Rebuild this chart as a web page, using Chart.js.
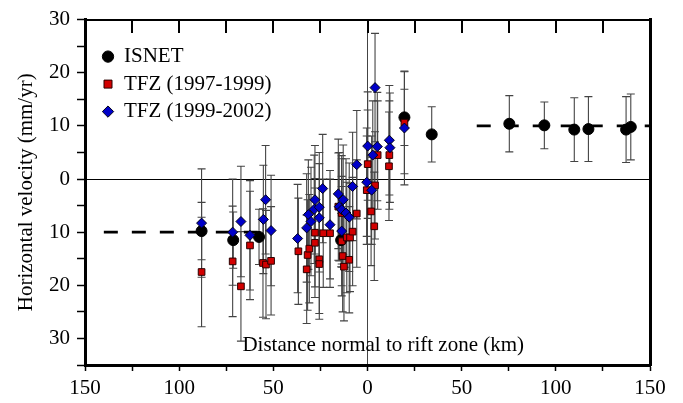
<!DOCTYPE html>
<html><head><meta charset="utf-8">
<script src="https://cdn.jsdelivr.net/npm/chart.js@4.4.1/dist/chart.umd.min.js"></script>
<style>html,body{margin:0;padding:0;background:#fff;}canvas{display:block;}</style>
</head><body>
<canvas id="c" width="683" height="403"></canvas>
<script>
// ---- data (distance normal to rift zone in km, horizontal velocity in mm/yr) ----
const isnetX   = [-88.1, -71.3, -57.6, -14.0, 19.6, 34.1, 75.3, 93.9, 109.8, 117.3, 137.3, 139.8];
const isnetV   = [-9.8, -11.5, -10.9, -11.5, 11.6, 8.4, 10.4, 10.1, 9.3, 9.4, 9.3, 9.8];
const isnetErr = [5.4, 5.3, 5.2, 5.0, 5.3, 5.2, 5.3, 4.4, 6.0, 6.1, 6.2, 6.2];

const tfz97X   = [-88.1, -71.6, -67.2, -62.4, -55.5, -53.9, -51.2, -36.7, -32.3, -31.8, -30.9, -27.9, -27.9, -25.6, -25.6, -23.5, -19.9, -15.5, -13.7, -13.7, -13.2, -12.5, -11.0, -9.7, -9.3, -7.9, -5.7, -0.4, 0.1, 1.9, 3.6, 4.0, 5.4, 11.4, 11.6, 19.6];
const tfz97V   = [-17.5, -15.5, -20.2, -12.5, -15.8, -16.1, -15.4, -13.6, -17.0, -14.3, -13.1, -10.1, -12.0, -15.1, -16.0, -10.2, -10.2, -5.2, -6.4, -11.7, -14.5, -16.5, -11.0, -15.2, -11.0, -9.9, -6.5, -2.1, 2.8, -6.1, -8.9, -1.2, 4.5, 2.4, 4.5, 10.6];
const tfz97Err = [10.3, 10.4, 10.3, 10.2, 10.2, 10.2, 10.2, 10.0, 10.2, 10.4, 10.2, 10.2, 10.3, 10.2, 10.4, 10.2, 10.2, 10.1, 10.2, 10.3, 10.5, 10.2, 10.4, 10.0, 10.2, 10.2, 10.1, 10.2, 10.2, 10.2, 10.2, 10.1, 10.2, 10.2, 10.2, 9.6];

const tfz99X   = [-88.1, -71.6, -67.2, -62.4, -55.3, -54.1, -51.2, -37.1, -32.3, -31.4, -30.0, -28.3, -27.9, -25.6, -25.6, -23.8, -19.9, -15.5, -15.0, -13.7, -12.9, -11.4, -9.7, -13.7, -7.9, -5.7, -0.4, 0.1, 2.2, 2.8, 4.0, 5.2, 11.6, 11.9, 19.6];
const tfz99V   = [-8.3, -10.0, -8.0, -10.6, -7.6, -3.9, -9.7, -11.2, -9.2, -6.7, -8.0, -5.7, -3.9, -5.3, -7.3, -1.8, -8.6, -2.8, -5.2, -5.8, -3.9, -6.4, -7.2, -9.8, -1.4, 2.7, -0.6, 6.2, -2.1, 4.5, 17.2, 6.1, 7.3, 5.9, 9.6];
const tfz99Err = [10.2, 10.0, 10.4, 10.3, 10.2, 10.2, 10.4, 10.2, 10.2, 10.3, 10.2, 10.2, 10.2, 10.3, 10.2, 10.2, 10.2, 10.3, 10.2, 10.2, 10.3, 10.2, 10.2, 10.3, 10.2, 10.2, 10.2, 10.2, 10.2, 10.2, 10.2, 10.2, 10.3, 10.3, 10.7];

const modelLeftX  = [-140, -55];
const modelLeftV  = [-10, -10];
const modelRightX = [58, 150];
const modelRightV = [10, 10];

const topTickValues = [-125, -100, -75, -50, -25, 0, 25, 50, 75, 100, 125];

const seriesLabels = ['ISNET', 'TFZ (1997-1999)', 'TFZ (1999-2002)'];
const xTitle = '      Distance normal to rift zone (km)';
const yTitle = 'Horizontal velocity (mm/yr)';

// ---- chart ----
Chart.defaults.font.family = "'Liberation Serif', 'Times New Roman', serif";
Chart.defaults.color = '#000';

function pts(xs, ys) { return xs.map((x, i) => ({x: x, y: ys[i]})); }

const errorBars = {
  id: 'errorBars',
  beforeDatasetsDraw(chart) {
    const {ctx, chartArea} = chart;
    const xs = chart.scales.x, ys = chart.scales.y;
    ctx.save();
    ctx.beginPath();
    ctx.rect(chartArea.left, chartArea.top, chartArea.right - chartArea.left, chartArea.bottom - chartArea.top);
    ctx.clip();
    ctx.strokeStyle = '#444';
    ctx.lineWidth = 1.1;
    chart.data.datasets.forEach(ds => {
      if (!ds.errors) return;
      ds.data.forEach((p, i) => {
        const e = ds.errors[i];
        const px = xs.getPixelForValue(p.x);
        const y1 = ys.getPixelForValue(p.y + e);
        const y2 = ys.getPixelForValue(p.y - e);
        ctx.beginPath();
        ctx.moveTo(px, y1); ctx.lineTo(px, y2);
        ctx.moveTo(px - 4, y1); ctx.lineTo(px + 4, y1);
        ctx.moveTo(px - 4, y2); ctx.lineTo(px + 4, y2);
        ctx.stroke();
      });
    });
    ctx.restore();
  },
  afterDraw(chart) {
    // inward tick marks along the top frame, positioned by the x and y scales
    const ctx = chart.ctx;
    const xs = chart.scales.x, ys = chart.scales.y;
    const top = Math.round(ys.getPixelForValue(ys.max));
    ctx.save();
    ctx.fillStyle = '#000';
    for (const v of topTickValues) {
      const px = Math.round(xs.getPixelForValue(v));
      ctx.fillRect(px - 1, top, 2, 13);
    }
    ctx.restore();
  }
};

const legendPlace = {
  id: 'legendPlace',
  beforeDraw(chart) {
    const lg = chart.legend, ca = chart.chartArea;
    if (!lg) return;
    lg.left = ca.left + 11;
    lg.top = ca.top + 20;
    lg.right = ca.right;
    lg.bottom = ca.bottom;
    lg.width = lg.right - lg.left;
    lg.height = lg.bottom - lg.top;
  }
};

new Chart(document.getElementById('c'), {
  type: 'scatter',
  data: {
    datasets: [
      { label: seriesLabels[0], data: pts(isnetX, isnetV), errors: isnetErr,
        pointStyle: 'circle', pointRadius: 5.5, backgroundColor: '#000', borderColor: '#000', borderWidth: 1, order: 3 },
      { label: seriesLabels[1], data: pts(tfz97X, tfz97V), errors: tfz97Err,
        pointStyle: 'rect', pointRadius: 4.7, backgroundColor: '#d20000', borderColor: '#2a0000', borderWidth: 1, order: 2 },
      { label: seriesLabels[2], data: pts(tfz99X, tfz99V), errors: tfz99Err,
        pointStyle: 'rectRot', pointRadius: 5, backgroundColor: '#0000c8', borderColor: '#000018', borderWidth: 1, order: 1 },
      { type: 'line', label: 'model left', data: pts(modelLeftX, modelLeftV), borderColor: '#000', borderWidth: 2.6,
        borderDash: [14, 14], pointRadius: 0, fill: false, order: 4 },
      { type: 'line', label: 'model right', data: pts(modelRightX, modelRightV), borderColor: '#000', borderWidth: 2.6,
        borderDash: [14, 14], pointRadius: 0, fill: false, order: 4 }
    ]
  },
  options: {
    responsive: false,
    devicePixelRatio: 1,
    animation: false,
    events: [],
    layout: { padding: { left: 6, right: 33, top: 15, bottom: 0 } },
    plugins: {
      tooltip: { enabled: false },
      legend: {
        position: 'chartArea',
        align: 'start',
        labels: {
          usePointStyle: true, boxHeight: 8, boxWidth: 11, padding: 6.5,
          font: { size: 21 }, color: '#000',
          filter: item => item.datasetIndex < 3,
          sort: (a, b) => a.datasetIndex - b.datasetIndex
        }
      }
    },
    scales: {
      x: {
        type: 'linear', position: 'bottom', min: -150, max: 150,
        ticks: { stepSize: 25, autoSkip: false, maxRotation: 0, padding: 5, font: { size: 21 }, color: '#000',
          callback: v => (v % 50 === 0 ? String(Math.abs(v)) : '') },
        grid: { drawOnChartArea: true, drawTicks: true, tickLength: 6, tickColor: '#000', tickWidth: 1.5, lineWidth: 1,
          color: c => (c.tick && c.tick.value === 0 ? '#444' : 'rgba(0,0,0,0)') },
        border: { display: true, color: '#000', width: 3 },
        title: { display: true, text: xTitle, font: { size: 21 }, color: '#000', padding: { top: 0, bottom: 45.4 } },
        afterFit: s => { s.height = 38; }
      },
      x2: {
        type: 'linear', position: 'top', min: -150, max: 150,
        ticks: { display: false, stepSize: 25 },
        grid: { drawOnChartArea: false, drawTicks: false },
        border: { display: true, color: '#000', width: 2 },
        afterFit: s => { s.height = 0; }
      },
      y: {
        type: 'linear', position: 'left', min: -35, max: 30,
        ticks: { stepSize: 5, autoSkip: false, padding: 7, font: { size: 21 }, color: '#000',
          callback: v => (v % 10 === 0 ? String(Math.abs(v)) : '') },
        grid: { drawOnChartArea: true, drawTicks: true, tickLength: 8, tickColor: '#000', tickWidth: 1.5, lineWidth: 1,
          color: c => (c.tick && c.tick.value === 0 ? '#000' : 'rgba(0,0,0,0)') },
        border: { display: true, color: '#000', width: 3 },
        title: { display: true, text: yTitle, font: { size: 21 }, color: '#000', padding: { top: 7.4, bottom: 0 } },
        afterFit: s => { s.width = 79; }
      },
      y2: {
        type: 'linear', position: 'right', min: -35, max: 30,
        ticks: { display: false },
        grid: { drawOnChartArea: false, drawTicks: false },
        border: { display: true, color: '#000', width: 3 },
        afterFit: s => { s.width = 0; }
      }
    }
  },
  plugins: [errorBars, legendPlace]
});
</script>
</body></html>
